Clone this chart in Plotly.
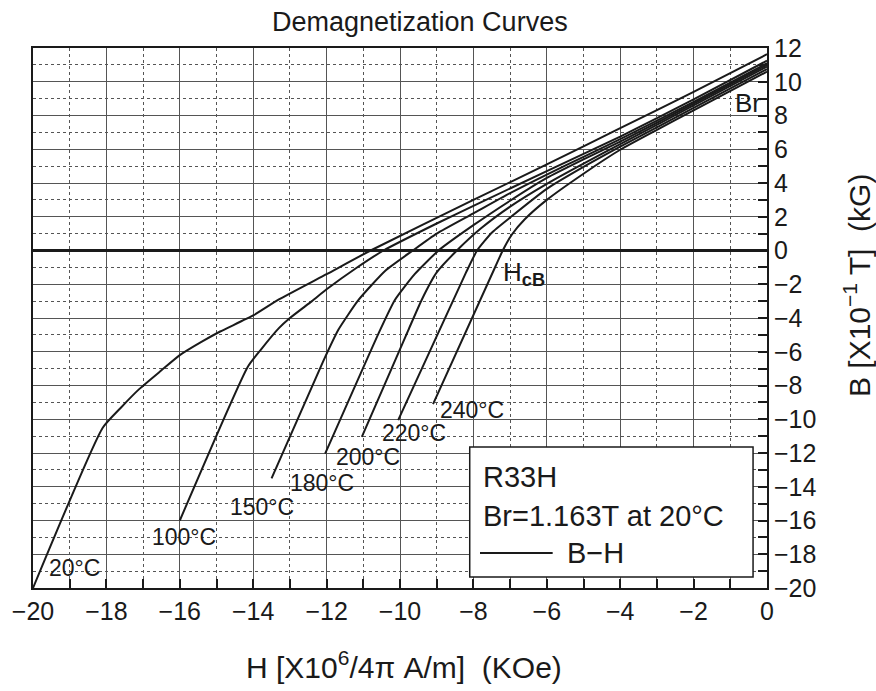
import plotly.graph_objects as go

# ---- data (H in kOe, B in kG) ----
temps = ["20°C", "100°C", "150°C", "180°C", "200°C", "220°C", "240°C"]

h_20 = [-20.0, -18.1, -17.6, -17.1, -16.5, -16.0, -15.4, -14.9, -14.0, -13.3, -12.0, -10.8, -8.0, -6.0, -4.0, -2.0, 0.0]
b_20 = [-20.0, -10.5, -9.3, -8.2, -7.1, -6.2, -5.4, -4.8, -3.85, -2.9, -1.4, 0.0, 3.0, 5.1, 7.25, 9.4, 11.63]

h_100 = [-16.0, -14.15, -13.8, -13.3, -13.0, -12.4, -12.0, -11.2, -10.45, -9.0, -8.0, -6.0, -4.0, -2.0, 0.0]
b_100 = [-16.0, -6.9, -5.9, -4.6, -4.0, -3.0, -2.3, -1.05, 0.0, 1.6, 2.65, 4.7, 6.75, 8.95, 11.25]

h_150 = [-13.5, -12.1, -11.68, -11.13, -10.4, -9.65, -9.0, -8.0, -7.0, -6.0, -5.0, -4.0, -2.0, 0.0]
b_150 = [-13.5, -6.6, -4.7, -2.93, -1.2, 0.0, 1.0, 2.2, 3.4, 4.5, 5.55, 6.6, 8.8, 11.1]

h_180 = [-12.04, -10.54, -10.14, -9.6, -8.95, -8.0, -7.0, -6.0, -5.0, -4.0, -2.0, 0.0]
b_180 = [-12.04, -4.7, -2.93, -1.4, 0.0, 1.5, 2.95, 4.3, 5.4, 6.45, 8.7, 11.0]

h_200 = [-11.04, -9.77, -9.41, -9.0, -8.45, -7.8, -7.0, -6.0, -5.0, -4.0, -2.0, 0.0]
b_200 = [-11.04, -4.7, -2.93, -1.3, 0.0, 1.3, 2.6, 3.95, 5.15, 6.3, 8.6, 10.9]

h_220 = [-10.05, -8.2, -7.9, -7.5, -7.0, -6.0, -5.0, -4.0, -2.0, 0.0]
b_220 = [-10.05, -1.3, 0.0, 1.05, 1.95, 3.65, 4.95, 6.15, 8.45, 10.75]

h_240 = [-9.1, -7.4, -7.2, -6.95, -6.6, -6.0, -5.0, -4.0, -3.0, -2.0, 0.0]
b_240 = [-9.1, -0.95, 0.0, 0.95, 1.85, 3.0, 4.55, 5.97, 7.15, 8.3, 10.6]

curves_h = [h_20, h_100, h_150, h_180, h_200, h_220, h_240]
curves_b = [b_20, b_100, b_150, b_180, b_200, b_220, b_240]

x_ticks = [-20, -18, -16, -14, -12, -10, -8, -6, -4, -2, 0]
y_ticks = [12, 10, 8, 6, 4, 2, 0, -2, -4, -6, -8, -10, -12, -14, -16, -18, -20]

# label anchor points (text placement, data units)
label_x = [-18.86, -15.89, -13.76, -12.12, -10.87, -9.62, -8.04]
label_y = [-18.81, -16.98, -15.2, -13.78, -12.23, -10.81, -9.45]

FONT = "Liberation Sans, Arial, sans-serif"
INK = "#1a1a1a"

fig = go.Figure()
for name, hx, by in zip(temps, curves_h, curves_b):
    fig.add_trace(go.Scatter(x=hx, y=by, mode="lines", name=name,
                             line=dict(color=INK, width=2, shape="spline", smoothing=0.5),
                             showlegend=False, hoverinfo="skip"))

for t, lx, ly in zip(temps, label_x, label_y):
    fig.add_annotation(x=lx, y=ly, xref="x", yref="y", text=t, showarrow=False,
                       font=dict(family=FONT, size=23, color=INK),
                       xanchor="center", yanchor="middle")

fig.add_annotation(x=-0.1, y=8.75, xref="x", yref="y", text="Br", showarrow=False,
                   font=dict(family=FONT, size=26, color=INK), xanchor="right", yanchor="middle")
fig.add_annotation(x=-7.25, y=-1.35, xref="x", yref="y", text="H<sub><b>cB</b></sub>",
                   showarrow=False, font=dict(family=FONT, size=26, color=INK),
                   xanchor="left", yanchor="middle")

# title and axis titles
fig.add_annotation(x=0.527, y=1.048, xref="paper", yref="paper", text="Demagnetization Curves",
                   showarrow=False, font=dict(family=FONT, size=27, color=INK),
                   xanchor="center", yanchor="middle")
fig.add_annotation(x=0.5054, y=-0.1426, xref="paper", yref="paper",
                   text="H [X10<sup>6</sup>/4π A/m]  (KOe)", showarrow=False,
                   font=dict(family=FONT, size=30, color=INK), xanchor="center", yanchor="middle")
fig.add_annotation(x=1.1226, y=0.561, xref="paper", yref="paper",
                   text="B [X10<sup>−1</sup> T]  (kG)", showarrow=False, textangle=-90,
                   font=dict(family=FONT, size=30, color=INK), xanchor="center", yanchor="middle")

# legend box
fig.add_shape(type="rect", xref="paper", yref="paper", x0=0.595, x1=0.981, y0=0.0204, y1=0.261,
              line=dict(color=INK, width=1.5), fillcolor="white", layer="above")
fig.add_annotation(x=0.610, y=0.2056, xref="paper", yref="paper", text="R33H", showarrow=False,
                   font=dict(family=FONT, size=29, color=INK), xanchor="left", yanchor="middle")
fig.add_annotation(x=0.610, y=0.133, xref="paper", yref="paper", text="Br=1.163T at 20°C",
                   showarrow=False, font=dict(family=FONT, size=29, color=INK),
                   xanchor="left", yanchor="middle")
fig.add_shape(type="line", xref="paper", yref="paper", x0=0.609, x1=0.708, y0=0.0648, y1=0.0648,
              line=dict(color=INK, width=2), layer="above")
fig.add_annotation(x=0.725, y=0.0648, xref="paper", yref="paper", text="B−H", showarrow=False,
                   font=dict(family=FONT, size=29, color=INK), xanchor="left", yanchor="middle")

axis_common = dict(showline=True, linecolor=INK, linewidth=2, mirror=True,
                   showgrid=True, gridcolor="#555555", gridwidth=1.3,
                   ticks="inside", ticklen=9, tickwidth=2, tickcolor=INK,
                   tickfont=dict(family=FONT, size=25, color=INK))

fig.update_xaxes(range=[-20, 0], tickmode="array", tickvals=x_ticks,
                 ticktext=[str(v).replace("-", "−") for v in x_ticks],
                 zeroline=False,
                 minor=dict(dtick=1, showgrid=True, griddash="dot", gridcolor="#555555",
                            gridwidth=1, ticks="inside", ticklen=9, tickcolor=INK),
                 **axis_common)
fig.update_yaxes(range=[-20, 12], side="right", tickmode="array", tickvals=y_ticks,
                 ticktext=[str(v).replace("-", "−") for v in y_ticks],
                 zeroline=True, zerolinecolor=INK, zerolinewidth=2.5,
                 minor=dict(dtick=1, showgrid=True, griddash="dot", gridcolor="#555555",
                            gridwidth=1, ticks="inside", ticklen=9, tickcolor=INK),
                 **axis_common)

fig.update_layout(width=876, height=691, autosize=False,
                  margin=dict(l=33, r=109, t=48, b=103),
                  paper_bgcolor="white", plot_bgcolor="white",
                  showlegend=False)

fig.write_html("out.html")
